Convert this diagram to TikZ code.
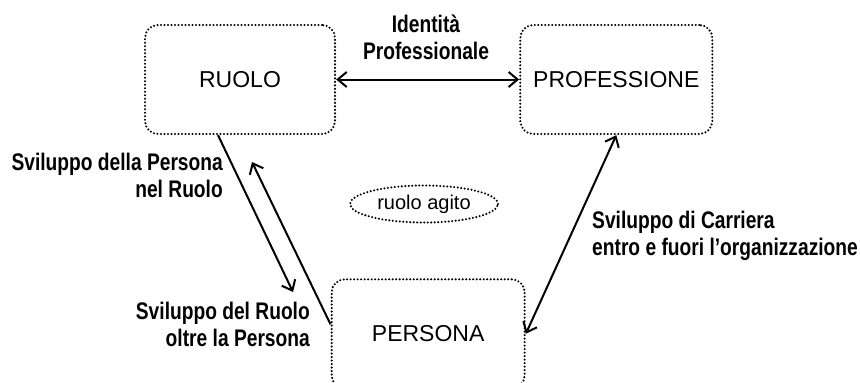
\documentclass[tikz,border=0pt]{standalone}
\usepackage{fontspec}
\setmainfont{Liberation Sans}
\newfontfamily\narrowsans{Liberation Sans}[FakeStretch=0.8]
\usetikzlibrary{positioning,arrows.meta,calc,shapes.geometric}

\begin{document}
\begin{tikzpicture}[
  x=1pt, y=-1pt,
  >={Straight Barb[length=9pt,width=15pt]},
  area/.style={draw, line width=2.3pt, line cap=round, dash pattern=on 0pt off 3.5pt, rounded corners=13pt, minimum width=190pt, minimum height=109pt, font=\fontsize{23}{27}\selectfont},
  agito/.style={ellipse, draw, line width=2.3pt, line cap=round, dash pattern=on 0pt off 3.5pt, minimum width=148pt, minimum height=37pt, inner sep=0pt, font=\fontsize{20}{24}\selectfont},
  lab/.style={font=\narrowsans\bfseries\fontsize{24}{27}\selectfont, inner sep=0pt},
  e/.style={line width=2pt}
]
\useasboundingbox (0,0) rectangle (860,383);
\node[area] (ruolo) at (240,79.5) {RUOLO};
\node[area, right=183pt of ruolo, minimum width=192pt] (prof) {PROFESSIONE};
\node[area, minimum width=193pt, below=143pt of $(ruolo.south)!0.5!(prof.south)$] (persona) {PERSONA};
\node[agito] (agito) at (424,204) {ruolo agito};

\node[lab, align=center] (identita) at (426,37) {Identità\\Professionale};
\node[lab, align=right, anchor=east] (svpers) at (223,175) {Sviluppo della Persona\\nel Ruolo};
\node[lab, align=right, anchor=east] (svruolo) at (310,324) {Sviluppo del Ruolo\\oltre la Persona};
\node[lab, align=left, anchor=west] (carriera) at (592,236) {Sviluppo di Carriera\\entro e fuori l’organizzazione};

\coordinate (a1) at ($(ruolo.south)+(-22pt,0pt)$);
\coordinate (b1) at (293,292);
\coordinate (a2) at ($(persona.west)+(0pt,9.5pt)$);
\coordinate (b2) at (252,162);

\draw[e, <->] (ruolo) -- (prof);
\draw[e, ->] (a1) -- (b1);
\draw[e, ->] (a2) -- (b2);
\draw[e, <->] (prof.south) -- (persona.east);
\end{tikzpicture}
\end{document}
